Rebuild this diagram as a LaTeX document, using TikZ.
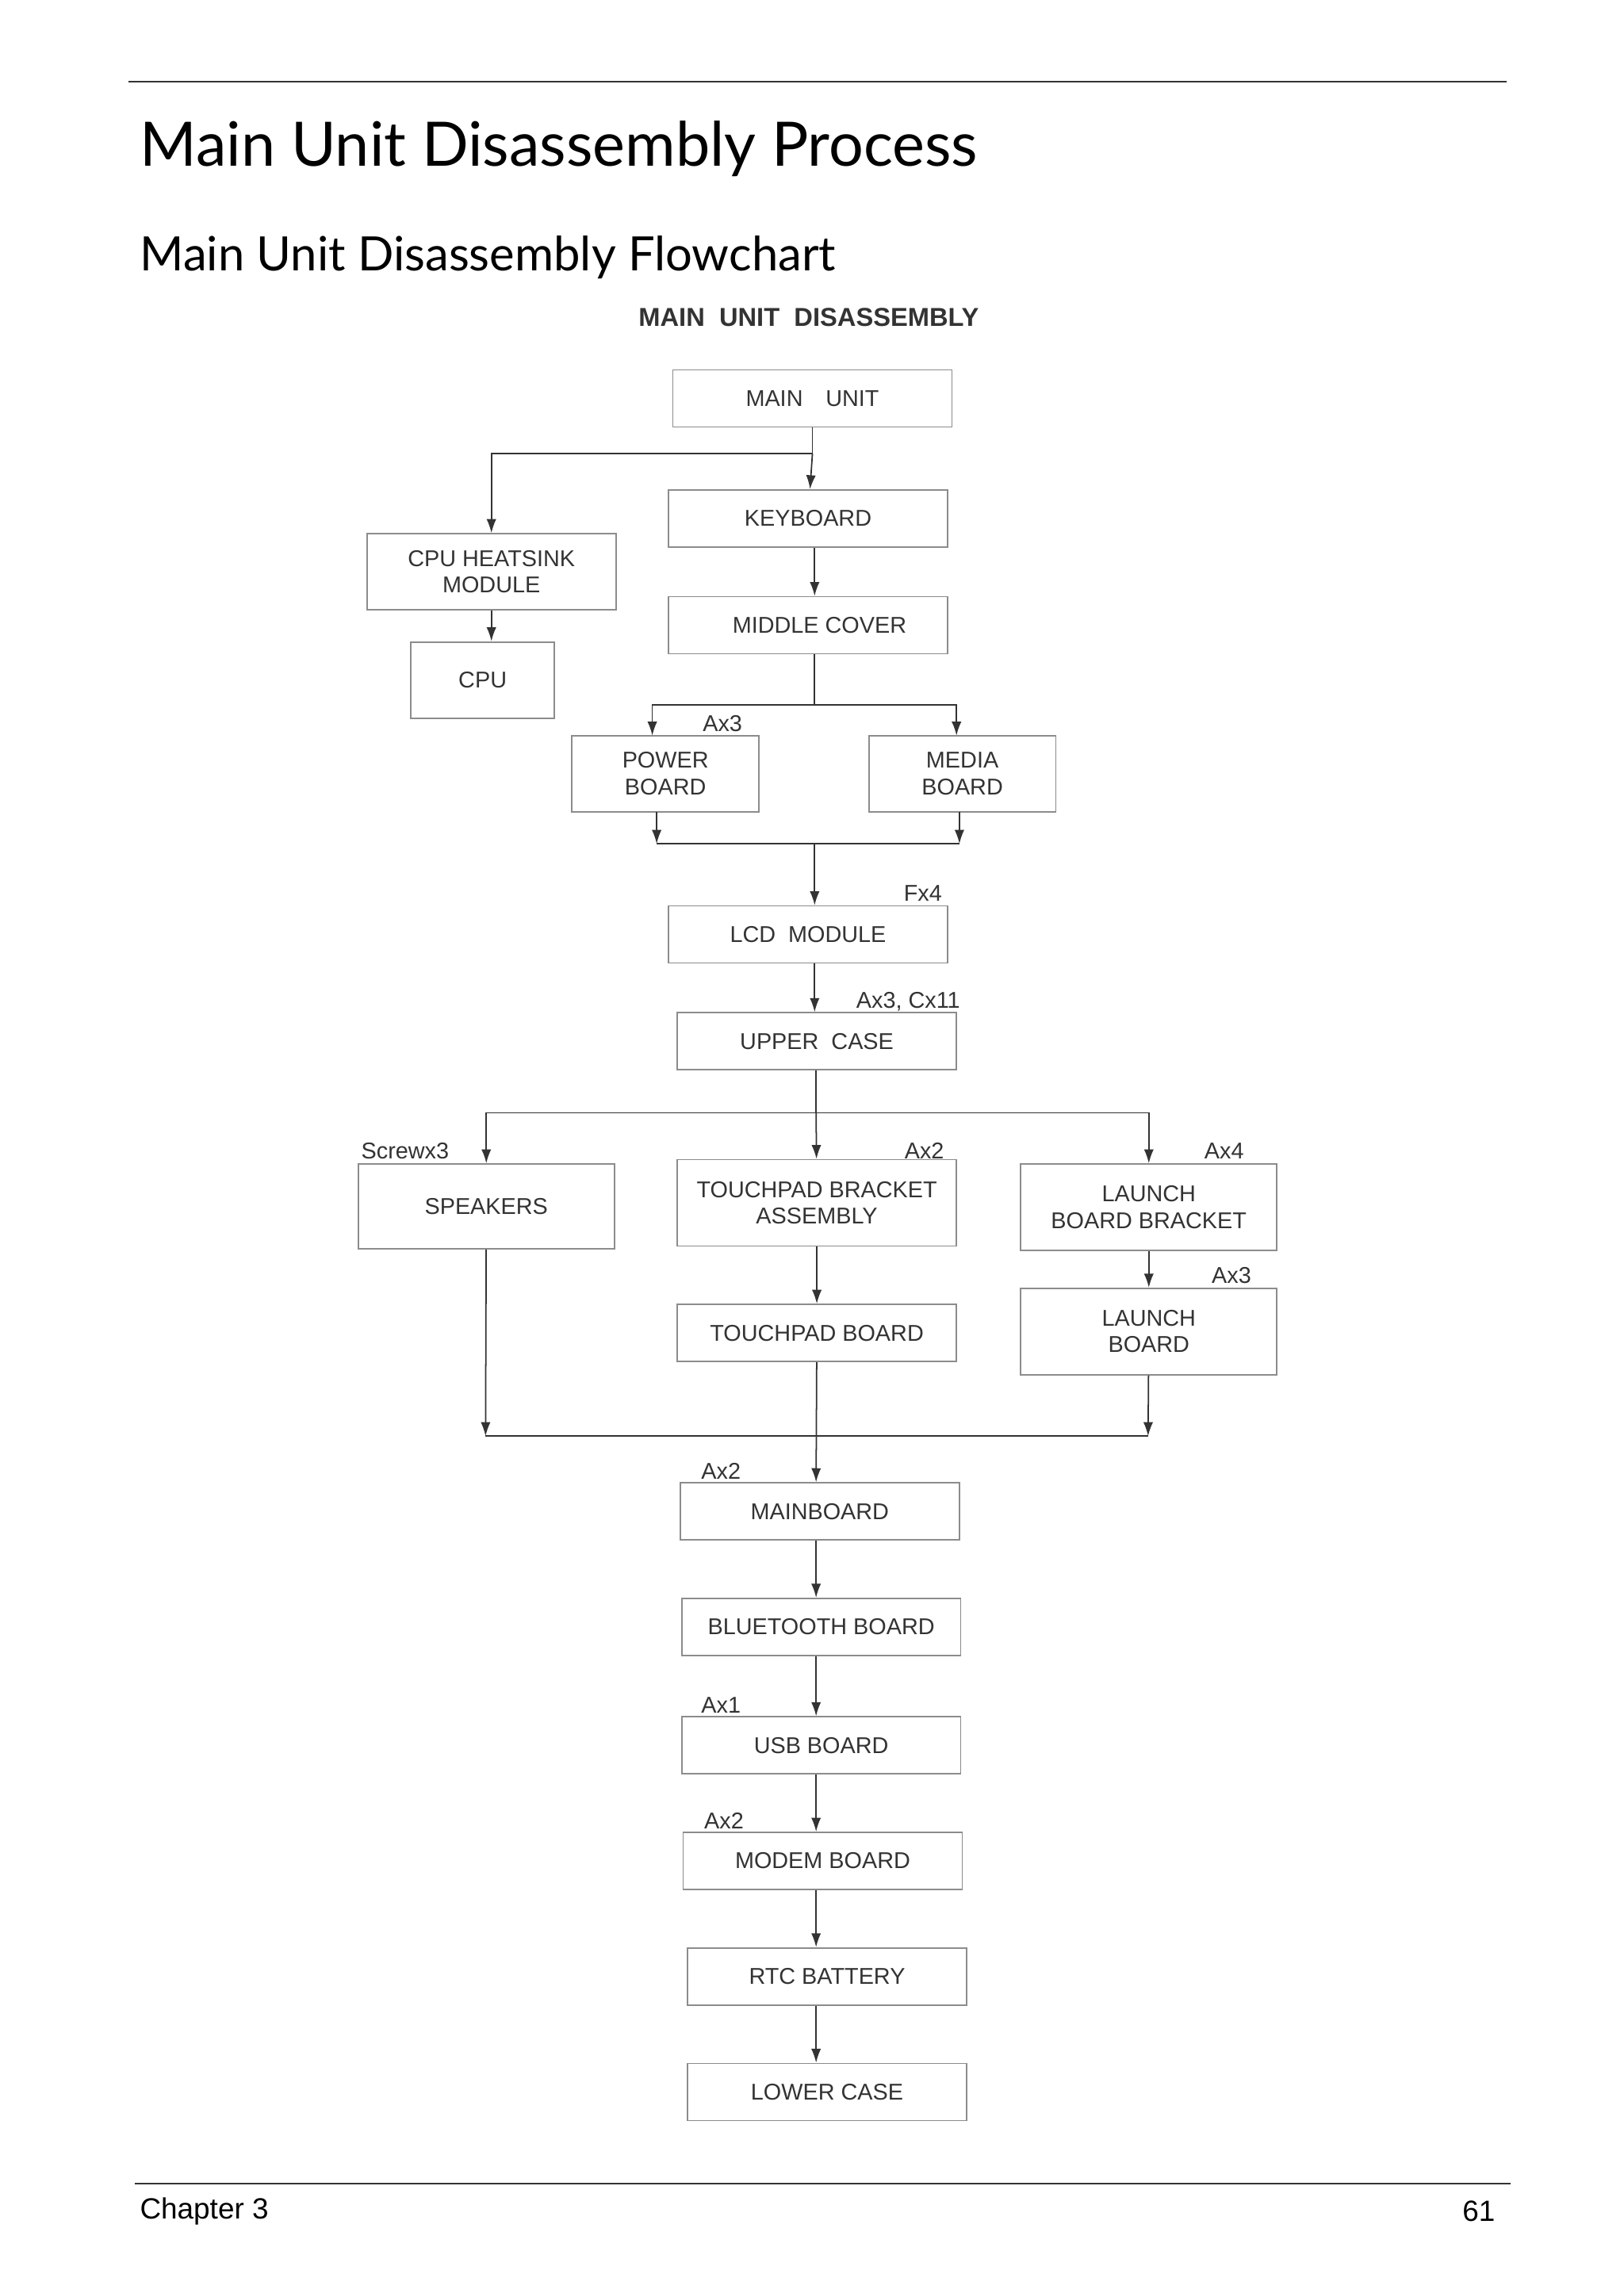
\documentclass[tikz,border=0pt]{standalone}
\usepackage{fontspec}
\setmainfont{Liberation Sans}
\newfontfamily\headfont{Lato}
\usetikzlibrary{arrows.meta}
\definecolor{frame}{HTML}{8C8C8C}
\definecolor{ink}{HTML}{333333}

\begin{document}
\begin{tikzpicture}[x=0.01845cm,y=-0.01845cm,
    box/.style={draw=frame,line width=0.5pt,minimum width=3.52cm,minimum height=0.72cm,
      inner sep=0pt,align=center,font=\fontsize{8.2}{9.5}\selectfont,text=ink},
    lbl/.style={font=\fontsize{8.2}{9}\selectfont,text=ink,inner sep=0pt},
    link/.style={draw=ink,line width=0.5pt},
    flow/.style={link,-{Latex[length=5pt,width=3.5pt]}}]
        \useasboundingbox (0,0) rectangle (1110,1555);
        \path
        % header
        (89,102) node[anchor=west,font=\headfont\fontsize{22}{24}\selectfont](title) {Main Unit Disassembly Process}
        (89,176) node[anchor=west,font=\headfont\fontsize{17}{19}\selectfont](subtitle) {Main Unit Disassembly Flowchart}
        (553,217) node[font=\bfseries\fontsize{9.3}{11}\selectfont,text=ink](head) {MAIN\ \ UNIT\ \ DISASSEMBLY}

        % top
        (555.5,272.5) node[box](mainunit) {MAIN\quad UNIT}
        (552.5,354.5) node[box](keyboard) {KEYBOARD}
        (336,391) node[box,minimum width=3.14cm,minimum height=0.96cm](heatsink) {CPU HEATSINK\\MODULE}
        (330,465) node[box,minimum width=1.81cm,minimum height=0.96cm](cpu) {CPU}
        (552.5,427.5) node[box](midcover) {\quad MIDDLE COVER}
        (455,529) node[box,minimum width=2.36cm,minimum height=0.96cm](power) {POWER\\BOARD}
        (658,529) node[box,minimum width=2.36cm,minimum height=0.96cm](media) {MEDIA\\BOARD}
        (552.5,639) node[box](lcd) {LCD\ \ MODULE}
        (558.5,712) node[box](upper) {UPPER\ \ CASE}

        % middle
        (332.5,825) node[box,minimum width=3.23cm,minimum height=1.07cm](speakers) {SPEAKERS}
        (558.5,822.5) node[box,minimum height=1.09cm](tpbracket) {TOUCHPAD BRACKET\\ASSEMBLY}
        (785.5,825.5) node[box,minimum width=3.23cm,minimum height=1.09cm](lbracket) {LAUNCH\\BOARD BRACKET}
        (558.5,911.5) node[box](tpboard) {TOUCHPAD BOARD}
        (785.5,910.5) node[box,minimum width=3.23cm,minimum height=1.09cm](lboard) {LAUNCH\\BOARD}

        % bottom
        (560.5,1033.5) node[box](mainboard) {MAINBOARD}
        (561.5,1112.5) node[box](bluetooth) {BLUETOOTH BOARD}
        (561.5,1193.5) node[box](usb) {USB BOARD}
        (562.5,1272.5) node[box](modem) {MODEM BOARD}
        (565.5,1351.5) node[box](rtc) {RTC BATTERY}
        (565.5,1430.5) node[box](lower) {LOWER CASE}

        % screw counts
        (494,495) node[lbl](sA) {Ax3}
        (631,611) node[lbl](sB) {Fx4}
        (621,685) node[lbl](sC) {Ax3, Cx11}
        (277,787) node[lbl](sD) {Screwx3}
        (632,787) node[lbl](sE) {Ax2}
        (837,787) node[lbl](sF) {Ax4}
        (842,872) node[lbl](sG) {Ax3}
        (493,1006) node[lbl](sH) {Ax2}
        (493,1166) node[lbl](sI) {Ax1}
        (495,1245) node[lbl](sJ) {Ax2}

        % footer
        (89,1512) node[anchor=west,font=\fontsize{10.5}{12}\selectfont](chapter) {Chapter 3}
        (1029,1512) node[anchor=east,font=\fontsize{10.5}{12}\selectfont](page) {61}
        ;

        \coordinate (j1) at (555.5,310);
        \coordinate (j2) at (557,482);
        \coordinate (j3) at (557,577);
        \coordinate (j4) at (558,761);
        \coordinate (j5) at (558,982);

        \draw[link] (88,56) -- (1030,56);
        \draw[link] (92,1493) -- (1033,1493);

        \draw[link] (mainunit) -- (j1);
        \draw[flow] (j1) -| (heatsink);
        \draw[flow] (j1) -- (keyboard);
        \draw[flow] (heatsink) -- (heatsink|-cpu.north);
        \draw[flow] (keyboard.south-|j2) -- (midcover.north-|j2);
        \draw[link] (midcover.south-|j2) -- (j2);
        \draw[flow] (j2) -| (446,503);
        \draw[flow] (j2) -| (654,503);
        \draw[flow] (449,555) -- (449,577);
        \draw[flow] (656,555) -- (656,577);
        \draw[link] (449,577) -- (656,577);
        \draw[flow] (j3) -- (lcd.north-|j3);
        \draw[flow] (lcd.south-|j3) -- (upper.north-|j3);
        \draw[link] (upper.south-|j4) -- (j4);
        \draw[flow] (j4) -| (speakers);
        \draw[flow] (j4) -- (tpbracket);
        \draw[flow] (j4) -| (lbracket);
        \draw[flow] (tpbracket) -- (tpboard);
        \draw[flow] (lbracket) -- (lboard);
        \draw[flow] (speakers) -- (332,982);
        \draw[flow] (lboard) -- (785,982);
        \draw[link] (332,982) -- (785,982);
        \draw[flow] (tpboard) -- (mainboard.north-|j5);
        \draw[flow] (mainboard.south-|j5) -- (bluetooth.north-|j5);
        \draw[flow] (bluetooth.south-|j5) -- (usb.north-|j5);
        \draw[flow] (usb.south-|j5) -- (modem.north-|j5);
        \draw[flow] (modem.south-|j5) -- (rtc.north-|j5);
        \draw[flow] (rtc.south-|j5) -- (lower.north-|j5);
      \end{tikzpicture}
\end{document}
